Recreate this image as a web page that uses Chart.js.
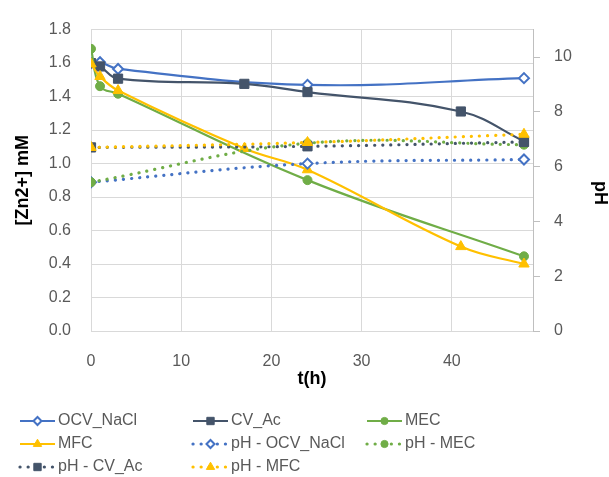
<!DOCTYPE html>
<html>
<head>
<meta charset="utf-8">
<script src="https://cdn.jsdelivr.net/npm/chart.js@4.4.1/dist/chart.umd.min.js"></script>
<style>
html,body{margin:0;padding:0;background:#fff;}
#wrap{width:609px;height:477px;position:relative;}
</style>
</head>
<body>
<div id="wrap"><canvas id="c" width="609" height="477"></canvas></div>
<script>
// ---- data ----
const seriesNames = ["OCV_NaCl","CV_Ac","MEC","MFC","pH - OCV_NaCl","pH - MEC","pH - CV_Ac","pH - MFC"];
const tOCV  = [0, 1, 3, 24, 48];
const zOCV  = [1.60, 1.605, 1.565, 1.47, 1.51];
const tCV   = [0, 1, 3, 17, 24, 41, 48];
const zCV   = [1.60, 1.58, 1.507, 1.476, 1.427, 1.311, 1.133];
const tMEC  = [0, 1, 3, 24, 48];
const zMEC  = [1.685, 1.462, 1.417, 0.901, 0.446];
const tMFC  = [0, 1, 3, 17, 24, 41, 48];
const zMFC  = [1.595, 1.52, 1.436, 1.09, 0.963, 0.504, 0.40];
const tPH   = [0, 24, 48];
const phOCV = [5.43, 6.11, 6.26];
const phMEC = [5.43, 6.85, 6.80];
const phCV  = [6.70, 6.74, 6.90];
const phMFC = [6.70, 6.88, 7.18];
const xTicks = [0, 10, 20, 30, 40];
const yTicks = [0, 0.2, 0.4, 0.6, 0.8, 1.0, 1.2, 1.4, 1.6, 1.8];
const y2Ticks = [0, 2, 4, 6, 8, 10];

const pts = (xs, ys) => xs.map((x, i) => ({x: x, y: ys[i]}));

const BLUE = '#4472C4', DARK = '#44546A', GREEN = '#70AD47', GOLD = '#FFC000';
const FONT = "'Liberation Sans', Arial, sans-serif";
const DOT = [0.1, 8];

function ds(i, data, color, style, radius, hollow, dashed, axis) {
  return {
    label: seriesNames[i],
    data: data,
    yAxisID: axis,
    borderColor: color,
    backgroundColor: hollow ? '#ffffff' : color,
    pointBorderColor: color,
    pointBackgroundColor: hollow ? '#ffffff' : color,
    pointStyle: style,
    pointRadius: radius,
    pointBorderWidth: hollow ? 2 : 1,
    borderWidth: dashed ? 3.2 : 2.2,
    borderDash: dashed ? DOT : [],
    borderCapStyle: dashed ? 'round' : 'butt',
    showLine: true,
    tension: 0.4,
    fill: false,
    order: 10 - i
  };
}

const datasets = [
  ds(0, pts(tOCV, zOCV), BLUE, 'rectRot', 5, true, false, 'y'),
  ds(1, pts(tCV, zCV), DARK, 'rect', 6.5, false, false, 'y'),
  ds(2, pts(tMEC, zMEC), GREEN, 'circle', 4.5, false, false, 'y'),
  ds(3, pts(tMFC, zMFC), GOLD, 'triangle', 6, false, false, 'y'),
  ds(4, pts(tPH, phOCV), BLUE, 'rectRot', 5, true, true, 'y2'),
  ds(5, pts(tPH, phMEC), GREEN, 'circle', 4.5, false, true, 'y2'),
  ds(6, pts(tPH, phCV), DARK, 'rect', 6.5, false, true, 'y2'),
  ds(7, pts(tPH, phMFC), GOLD, 'triangle', 6, false, true, 'y2')
];

const legendPlugin = {
  id: 'customLegend',
  afterDraw(chart) {
    const ctx = chart.ctx;
    const cols = [20, 193, 367];
    const rows = [421, 444, 467];
    ctx.save();
    chart.data.datasets.forEach((d, i) => {
      const x0 = cols[i % 3], y = rows[Math.floor(i / 3)];
      ctx.save();
      ctx.strokeStyle = d.borderColor;
      ctx.lineWidth = d.borderWidth;
      ctx.setLineDash(d.borderDash);
      ctx.lineCap = d.borderCapStyle;
      ctx.beginPath();
      ctx.moveTo(x0, y); ctx.lineTo(x0 + 35, y);
      ctx.stroke();
      ctx.restore();
      ctx.save();
      ctx.fillStyle = d.pointBackgroundColor;
      ctx.strokeStyle = d.pointBorderColor;
      ctx.lineWidth = d.pointBorderWidth;
      Chart.helpers.drawPoint(ctx, {pointStyle: d.pointStyle, rotation: 0, radius: d.pointRadius * 0.8, borderWidth: d.pointBorderWidth}, x0 + 17.5, y);
      ctx.restore();
      ctx.fillStyle = '#595959';
      ctx.font = "16px " + FONT;
      ctx.textBaseline = 'middle';
      ctx.textAlign = 'left';
      ctx.fillText(d.label, x0 + 38, y);
    });
    // right axis title
    ctx.save();
    ctx.translate(599.5, 193);
    ctx.rotate(Math.PI / 2);
    ctx.fillStyle = '#000';
    ctx.font = "bold 18px " + FONT;
    ctx.textAlign = 'center';
    ctx.textBaseline = 'middle';
    ctx.fillText('pH', 0, 0);
    ctx.restore();
    ctx.restore();
  }
};

new Chart(document.getElementById('c'), {
  type: 'scatter',
  data: { datasets: datasets },
  options: {
    responsive: false,
    animation: false,
    layout: { padding: { top: 24, bottom: 87, left: 0, right: 0 } },
    plugins: { legend: { display: false }, tooltip: { enabled: false } },
    scales: {
      x: {
        type: 'linear', min: 0, max: 49,
        afterBuildTicks: s => { s.ticks = xTicks.map(v => ({value: v})); },
        afterFit: s => { s.height = 59; },
        ticks: { color: '#595959', font: { size: 16, family: FONT }, padding: 21 },
        grid: { color: '#d9d9d9', lineWidth: 1, drawTicks: false },
        border: { color: '#d9d9d9' },
        title: { display: true, text: 't(h)', color: '#000', font: { size: 18, weight: 'bold', family: FONT }, padding: { top: 0, bottom: 0 } }
      },
      y: {
        position: 'left', min: 0, max: 1.8,
        afterBuildTicks: s => { s.ticks = yTicks.map(v => ({value: v})); },
        afterFit: s => { s.width = 91; },
        ticks: { color: '#595959', font: { size: 16, family: FONT }, padding: 20, callback: v => Number(v).toFixed(1) },
        grid: { color: '#d9d9d9', lineWidth: 1, drawTicks: false },
        border: { display: false },
        title: { display: true, text: '[Zn2+] mM', color: '#000', font: { size: 18, weight: 'bold', family: FONT }, padding: { top: 12, bottom: 0 } }
      },
      y2: {
        position: 'right', min: 0, max: 11,
        afterBuildTicks: s => { s.ticks = y2Ticks.map(v => ({value: v})); },
        afterFit: s => { s.width = 76; },
        ticks: { color: '#595959', font: { size: 16, family: FONT }, padding: 14 },
        grid: { drawOnChartArea: false, color: '#bfbfbf', tickLength: 7 },
        border: { color: '#bfbfbf' }
      }
    }
  },
  plugins: [legendPlugin]
});
</script>
</body>
</html>
